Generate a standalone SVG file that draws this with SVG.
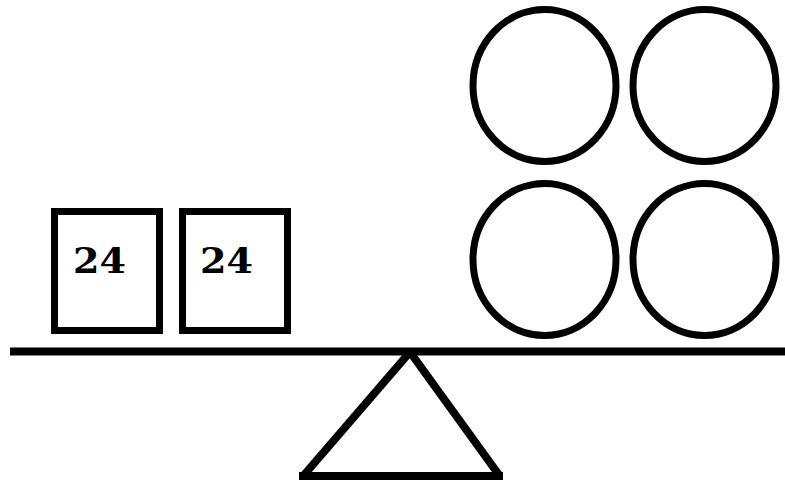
<svg xmlns="http://www.w3.org/2000/svg" width="785" height="485" viewBox="0 0 785 485">
<style>
.s{fill:none;stroke:#000;stroke-width:7}
.b{fill:none;stroke:#000;stroke-width:8}
.t{font-family:"DejaVu Serif",serif;font-weight:bold;font-size:36px;fill:#000}
</style>
<rect width="785" height="485" fill="#fff"/>
<g id="box1"><rect class="s" x="54.5" y="211.5" width="105" height="119"/><text class="t" x="73" y="273" textLength="53" lengthAdjust="spacingAndGlyphs">24</text></g>
<g id="box2"><rect class="s" x="182.5" y="211.5" width="105" height="119"/><text class="t" x="200" y="273" textLength="53" lengthAdjust="spacingAndGlyphs">24</text></g>
<g id="c1"><ellipse class="s" cx="544.5" cy="85.5" rx="71.5" ry="76"/></g>
<g id="c2"><ellipse class="s" cx="704.5" cy="85.5" rx="71.5" ry="76"/></g>
<g id="c3"><ellipse class="s" cx="544.5" cy="259.5" rx="71.5" ry="76"/></g>
<g id="c4"><ellipse class="s" cx="704.5" cy="259.5" rx="71.5" ry="76"/></g>
<g id="seesaw">
<line class="b" x1="10" y1="351.5" x2="785" y2="351.5"/>
<line class="b" x1="410" y1="352" x2="304" y2="475"/>
<line class="b" x1="410" y1="352" x2="499" y2="475"/>
<line class="b" x1="299" y1="476" x2="503" y2="476"/>
</g>
</svg>
